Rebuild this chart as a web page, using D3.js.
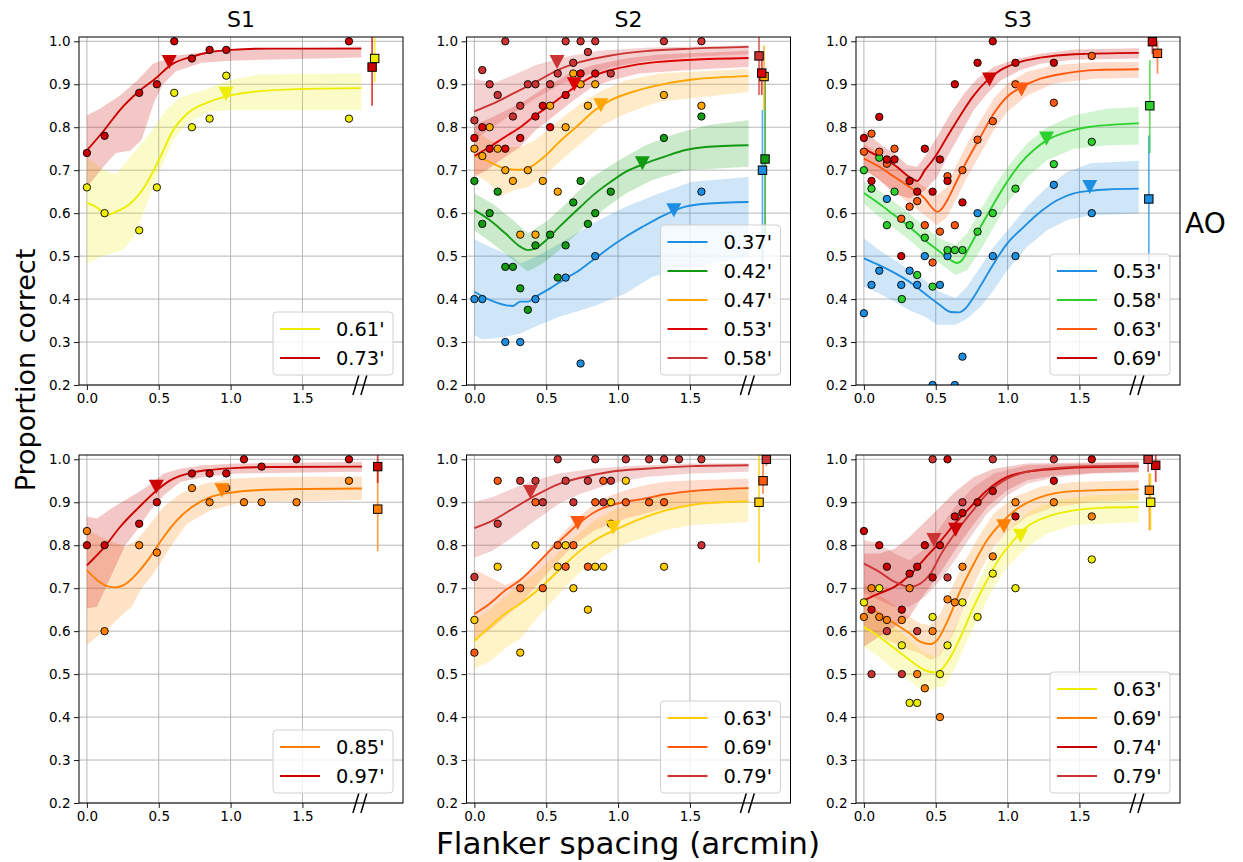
<!DOCTYPE html>
<html><head><meta charset="utf-8">
<script src="https://cdn.jsdelivr.net/npm/d3@7/dist/d3.min.js"></script>
<style>body{margin:0;background:#fff}svg{display:block}text{font-family:"DejaVu Sans",sans-serif;fill:#000}</style>
</head><body><svg id="c" width="1243" height="862"></svg>
<script>
// ---------- shared axis data ----------
const xTicks = [0, 0.5, 1.0, 1.5];
const yTicks = [0.2, 0.3, 0.4, 0.5, 0.6, 0.7, 0.8, 0.9, 1.0];
const titles = ["S1", "S2", "S3"];

// ---------- Panel 1: S1, AO row ----------
const p1Labels = ["0.61'", "0.73'"];
const p1a_pts = [[0,0.66],[0.123,0.60],[0.364,0.56],[0.487,0.66],[0.608,0.88],[0.731,0.80],[0.854,0.82],[0.97,0.92],[1.824,0.82]];
const p1a_fit = [[0,0.624],[0.08,0.611],[0.13,0.595],[0.2,0.603],[0.3,0.622],[0.4,0.661],[0.5,0.723],[0.6,0.793],[0.7,0.832],[0.85,0.859],[1.0,0.874],[1.2,0.884],[1.5,0.889],[1.91,0.891]];
const p1a_hi = [[0,0.73],[0.12,0.70],[0.2,0.69],[0.3,0.73],[0.45,0.79],[0.55,0.84],[0.65,0.87],[0.8,0.885],[1.0,0.91],[1.2,0.923],[1.91,0.925]];
const p1a_lo = [[0,0.483],[0.09,0.498],[0.25,0.514],[0.33,0.545],[0.4,0.607],[0.5,0.692],[0.6,0.77],[0.7,0.81],[0.85,0.836],[1.0,0.84],[1.91,0.84]];
const p1b_pts = [[0,0.74],[0.123,0.78],[0.364,0.88],[0.487,0.90],[0.608,1.0],[0.731,0.96],[0.854,0.98],[0.97,0.98],[1.824,1.0]];
const p1b_fit = [[0,0.746],[0.12,0.793],[0.23,0.84],[0.36,0.883],[0.49,0.917],[0.58,0.944],[0.73,0.964],[0.86,0.975],[1.0,0.98],[1.28,0.983],[1.91,0.983]];
const p1b_hi = [[0,0.828],[0.09,0.843],[0.23,0.874],[0.35,0.909],[0.46,0.948],[0.63,0.967],[0.93,0.979],[1.91,0.988]];
const p1b_lo = [[0,0.66],[0.12,0.71],[0.2,0.74],[0.3,0.745],[0.38,0.77],[0.43,0.82],[0.47,0.86],[0.53,0.9],[0.62,0.93],[0.8,0.95],[1.0,0.955],[1.91,0.962]];
const p1Tri = [[0.968,0.878],[0.573,0.952]];
const p1Sq = [[2.003,0.96],[1.985,0.94]];
const p1Err = [[0.905,1.05],[0.85,1.05]];

// ---------- Panel 2: S2, AO row ----------
const p2Labels = ["0.37'", "0.42'", "0.47'", "0.53'", "0.58'"];
const p2a_pts = [[0,0.40],[0.055,0.40],[0.215,0.30],[0.319,0.30],[0.425,0.40],[0.635,0.45],[0.739,0.25],[0.841,0.50],[1.58,0.65]];
const p2a_fit = [[0,0.417],[0.106,0.398],[0.215,0.386],[0.268,0.384],[0.319,0.394],[0.372,0.394],[0.425,0.405],[0.527,0.425],[0.635,0.448],[0.739,0.469],[0.841,0.495],[0.949,0.522],[1.053,0.545],[1.169,0.568],[1.319,0.595],[1.469,0.615],[1.607,0.622],[1.908,0.626]];
const p2a_hi = [[0,0.539],[0.106,0.522],[0.268,0.498],[0.319,0.483],[0.425,0.498],[0.591,0.529],[0.822,0.576],[1.053,0.615],[1.284,0.646],[1.515,0.673],[1.908,0.684]];
const p2a_lo = [[0,0.316],[0.055,0.306],[0.215,0.312],[0.319,0.32],[0.425,0.336],[0.591,0.359],[0.822,0.382],[1.053,0.413],[1.238,0.452],[1.515,0.475],[1.908,0.498]];
const p2b_pts = [[0,0.675],[0.055,0.575],[0.106,0.60],[0.162,0.65],[0.215,0.475],[0.268,0.475],[0.319,0.425],[0.372,0.375],[0.425,0.525],[0.527,0.55],[0.58,0.45],[0.635,0.525],[0.688,0.625],[0.739,0.675],[0.79,0.575],[0.841,0.60],[0.949,0.65],[1.319,0.775],[1.58,0.825]];
const p2b_fit = [[0,0.607],[0.106,0.584],[0.215,0.553],[0.319,0.522],[0.372,0.514],[0.425,0.518],[0.499,0.537],[0.591,0.568],[0.739,0.615],[0.841,0.646],[0.949,0.673],[1.053,0.696],[1.192,0.716],[1.319,0.731],[1.469,0.747],[1.607,0.754],[1.908,0.758]];
const p2b_hi = [[0,0.646],[0.129,0.622],[0.268,0.584],[0.372,0.553],[0.499,0.58],[0.637,0.622],[0.822,0.684],[1.007,0.723],[1.192,0.758],[1.4,0.785],[1.63,0.805],[1.908,0.816]];
const p2b_lo = [[0,0.56],[0.129,0.529],[0.268,0.491],[0.372,0.464],[0.476,0.483],[0.591,0.514],[0.739,0.56],[0.891,0.607],[1.053,0.646],[1.238,0.677],[1.469,0.70],[1.908,0.708]];
const p2c_pts = [[0,0.75],[0.055,0.733],[0.106,0.80],[0.162,0.75],[0.215,0.70],[0.268,0.675],[0.319,0.55],[0.372,0.70],[0.425,0.55],[0.476,0.675],[0.527,0.85],[0.58,0.65],[0.635,0.80],[0.688,0.925],[0.739,0.90],[0.79,0.85],[0.841,0.90],[1.319,0.875],[1.58,0.85]];
const p2c_fit = [[0,0.735],[0.106,0.719],[0.215,0.704],[0.319,0.701],[0.372,0.704],[0.425,0.715],[0.499,0.735],[0.591,0.766],[0.707,0.80],[0.841,0.84],[0.949,0.863],[1.099,0.882],[1.284,0.898],[1.515,0.911],[1.908,0.919]];
const p2c_hi = [[0,0.793],[0.106,0.77],[0.215,0.754],[0.319,0.754],[0.425,0.77],[0.591,0.816],[0.739,0.855],[0.891,0.886],[1.053,0.909],[1.284,0.925],[1.908,0.936]];
const p2c_lo = [[0,0.692],[0.106,0.669],[0.176,0.638],[0.268,0.653],[0.372,0.661],[0.476,0.684],[0.591,0.719],[0.739,0.762],[0.891,0.805],[1.053,0.832],[1.284,0.859],[1.908,0.882]];
const p2d_pts = [[0,0.775],[0.055,0.80],[0.106,0.75],[0.215,0.75],[0.319,0.775],[0.425,0.825],[0.476,0.85],[0.527,0.80],[0.635,0.875],[0.739,0.925],[0.841,0.925]];
const p2d_fit = [[0,0.733],[0.106,0.754],[0.215,0.778],[0.319,0.80],[0.425,0.828],[0.527,0.851],[0.635,0.878],[0.739,0.902],[0.841,0.921],[0.949,0.933],[1.099,0.944],[1.284,0.952],[1.515,0.957],[1.908,0.961]];
const p2d_hi = [[0,0.805],[0.129,0.824],[0.319,0.855],[0.499,0.894],[0.661,0.925],[0.822,0.944],[1.053,0.96],[1.284,0.969],[1.908,0.978]];
const p2d_lo = [[0,0.684],[0.083,0.70],[0.215,0.731],[0.319,0.754],[0.425,0.793],[0.545,0.824],[0.661,0.855],[0.822,0.894],[0.949,0.909],[1.145,0.925],[1.515,0.934],[1.908,0.94]];
const p2e_pts = [[0,0.816],[0.055,0.933],[0.106,0.90],[0.162,0.875],[0.215,1.0],[0.268,0.825],[0.319,0.85],[0.372,0.90],[0.425,0.90],[0.527,0.90],[0.58,0.925],[0.635,1.0],[0.688,0.95],[0.739,1.0],[0.79,0.975],[0.841,1.0],[0.949,0.925],[1.319,1.0],[1.58,1.0]];
const p2e_fit = [[0,0.837],[0.129,0.855],[0.268,0.878],[0.425,0.905],[0.58,0.933],[0.739,0.952],[0.949,0.967],[1.192,0.977],[1.515,0.983],[1.908,0.987]];
const p2e_hi = [[0,0.913],[0.129,0.902],[0.268,0.921],[0.425,0.944],[0.637,0.964],[0.868,0.978],[1.192,0.985],[1.908,0.991]];
const p2e_lo = [[0,0.77],[0.129,0.80],[0.268,0.832],[0.425,0.867],[0.591,0.898],[0.776,0.921],[0.961,0.94],[1.192,0.954],[1.515,0.964],[1.908,0.97]];
const p2Tri = [[1.388,0.607],[1.169,0.716],[0.88,0.851],[0.695,0.90],[0.575,0.952]];
const p2Sq = [[2.005,0.70],[2.023,0.726],[2.016,0.918],[2.0,0.926],[1.981,0.966]];
const p2Err = [[0.45,0.84],[0.55,0.93],[0.84,0.99],[0.875,0.975],[0.875,1.05]];

// ---------- Panel 3: S3, AO row ----------
const p3Labels = ["0.53'", "0.58'", "0.63'", "0.69'"];
const p3a_pts = [[0,0.367],[0.053,0.433],[0.107,0.466],[0.16,0.633],[0.26,0.433],[0.318,0.466],[0.371,0.433],[0.424,0.50],[0.478,0.20],[0.529,0.433],[0.582,0.50],[0.633,0.20],[0.686,0.266],[0.791,0.60],[0.897,0.50],[1.055,0.50],[1.322,0.666],[1.586,0.60]];
const p3a_fit = [[0,0.495],[0.107,0.479],[0.213,0.461],[0.318,0.44],[0.424,0.413],[0.529,0.386],[0.603,0.37],[0.661,0.369],[0.707,0.378],[0.765,0.405],[0.835,0.444],[0.904,0.483],[0.997,0.529],[1.113,0.568],[1.229,0.603],[1.345,0.63],[1.461,0.646],[1.577,0.652],[1.693,0.655],[1.913,0.657]];
const p3a_hi = [[0,0.541],[0.107,0.514],[0.213,0.491],[0.318,0.467],[0.424,0.444],[0.529,0.417],[0.638,0.402],[0.719,0.429],[0.812,0.475],[0.904,0.522],[1.02,0.568],[1.136,0.615],[1.275,0.661],[1.414,0.696],[1.577,0.716],[1.913,0.722]];
const p3a_lo = [[0,0.429],[0.107,0.413],[0.213,0.394],[0.318,0.374],[0.424,0.359],[0.51,0.34],[0.638,0.34],[0.719,0.355],[0.812,0.382],[0.904,0.421],[0.997,0.467],[1.136,0.522],[1.275,0.56],[1.414,0.584],[1.577,0.595],[1.913,0.599]];
const p3b_pts = [[0,0.70],[0.053,0.657],[0.107,0.729],[0.16,0.572],[0.213,0.65],[0.264,0.40],[0.318,0.572],[0.371,0.456],[0.424,0.543],[0.478,0.429],[0.582,0.514],[0.633,0.514],[0.686,0.514],[0.791,0.557],[0.897,0.60],[1.055,0.657],[1.322,0.714],[1.586,0.766]];
const p3b_fit = [[0,0.647],[0.107,0.622],[0.213,0.595],[0.318,0.568],[0.424,0.537],[0.529,0.51],[0.603,0.491],[0.649,0.484],[0.684,0.491],[0.742,0.526],[0.812,0.568],[0.904,0.622],[0.997,0.673],[1.09,0.716],[1.182,0.747],[1.275,0.77],[1.414,0.789],[1.577,0.801],[1.913,0.809]];
const p3b_hi = [[0,0.673],[0.107,0.653],[0.213,0.626],[0.318,0.599],[0.424,0.568],[0.529,0.541],[0.638,0.526],[0.719,0.553],[0.812,0.607],[0.904,0.661],[1.02,0.716],[1.136,0.762],[1.275,0.80],[1.461,0.828],[1.693,0.843],[1.913,0.847]];
const p3b_lo = [[0,0.622],[0.107,0.591],[0.213,0.564],[0.318,0.537],[0.424,0.506],[0.529,0.483],[0.638,0.456],[0.719,0.467],[0.812,0.514],[0.904,0.568],[0.997,0.622],[1.136,0.684],[1.275,0.723],[1.461,0.75],[1.693,0.758],[1.913,0.76]];
const p3c_pts = [[0,0.743],[0.053,0.785],[0.107,0.743],[0.16,0.715],[0.213,0.75],[0.26,0.587],[0.318,0.615],[0.371,0.628],[0.424,0.572],[0.478,0.485],[0.529,0.557],[0.582,0.686],[0.633,0.572],[0.686,0.70],[0.791,0.771],[0.897,0.814],[1.055,0.90],[1.322,0.857],[1.586,0.966]];
const p3c_fit = [[0,0.727],[0.107,0.708],[0.213,0.684],[0.318,0.661],[0.424,0.634],[0.478,0.611],[0.51,0.603],[0.533,0.607],[0.58,0.63],[0.638,0.669],[0.719,0.723],[0.812,0.778],[0.904,0.832],[0.997,0.871],[1.101,0.894],[1.229,0.913],[1.414,0.926],[1.6,0.933],[1.913,0.935]];
const p3c_hi = [[0,0.762],[0.107,0.739],[0.213,0.712],[0.318,0.684],[0.424,0.661],[0.51,0.642],[0.58,0.661],[0.638,0.708],[0.719,0.762],[0.812,0.816],[0.904,0.867],[0.997,0.902],[1.136,0.929],[1.322,0.944],[1.6,0.951],[1.913,0.952]];
const p3c_lo = [[0,0.70],[0.107,0.677],[0.213,0.65],[0.318,0.622],[0.424,0.595],[0.51,0.572],[0.58,0.591],[0.638,0.63],[0.719,0.684],[0.812,0.739],[0.904,0.793],[0.997,0.836],[1.136,0.874],[1.322,0.902],[1.6,0.913],[1.913,0.915]];
const p3d_pts = [[0,0.775],[0.053,0.675],[0.107,0.824],[0.16,0.725],[0.213,0.725],[0.26,0.50],[0.318,0.675],[0.371,0.65],[0.424,0.75],[0.478,0.65],[0.529,0.725],[0.582,0.675],[0.633,0.90],[0.686,0.625],[0.791,0.95],[0.897,1.0],[1.055,0.95],[1.322,0.95]];
const p3d_fit = [[0,0.75],[0.107,0.731],[0.213,0.712],[0.318,0.684],[0.371,0.675],[0.424,0.70],[0.487,0.727],[0.58,0.778],[0.672,0.828],[0.765,0.874],[0.858,0.909],[0.951,0.933],[1.067,0.95],[1.229,0.962],[1.461,0.97],[1.913,0.973]];
const p3d_hi = [[0,0.793],[0.107,0.762],[0.213,0.739],[0.301,0.712],[0.371,0.708],[0.424,0.731],[0.51,0.778],[0.603,0.832],[0.696,0.878],[0.788,0.913],[0.904,0.94],[1.043,0.957],[1.229,0.971],[1.461,0.981],[1.913,0.984]];
const p3d_lo = [[0,0.704],[0.107,0.677],[0.213,0.646],[0.318,0.634],[0.424,0.653],[0.51,0.684],[0.58,0.731],[0.672,0.785],[0.765,0.84],[0.858,0.878],[0.951,0.909],[1.09,0.933],[1.229,0.948],[1.461,0.957],[1.913,0.96]];
const p3Tri = [[1.572,0.661],[1.271,0.774],[1.097,0.888],[0.874,0.911]];
const p3Sq = [[1.983,0.633],[1.99,0.85],[2.043,0.972],[2.008,0.999]];
const p3Err = [[0.45,0.781],[0.74,0.956],[0.925,1.0],[0.97,1.05]];

// ---------- Panel 4: S1, bottom row ----------
const p4Labels = ["0.85'", "0.97'"];
const p4a_pts = [[0,0.833],[0.123,0.60],[0.364,0.80],[0.487,0.783],[0.731,0.933],[0.854,0.90],[0.97,0.933],[1.093,0.90],[1.216,0.90],[1.459,0.90],[1.824,0.95]];
const p4a_fit = [[0,0.742],[0.07,0.719],[0.139,0.705],[0.2,0.702],[0.255,0.707],[0.348,0.734],[0.441,0.773],[0.534,0.819],[0.626,0.858],[0.731,0.889],[0.858,0.912],[0.998,0.922],[1.183,0.928],[1.508,0.931],[1.914,0.932]];
const p4a_hi = [[0,0.835],[0.116,0.816],[0.267,0.796],[0.348,0.812],[0.441,0.85],[0.534,0.889],[0.65,0.92],[0.812,0.943],[0.998,0.955],[1.276,0.959],[1.914,0.96]];
const p4a_lo = [[0,0.567],[0.07,0.587],[0.162,0.61],[0.255,0.641],[0.313,0.657],[0.371,0.695],[0.464,0.734],[0.58,0.796],[0.696,0.85],[0.858,0.881],[1.044,0.897],[1.276,0.901],[1.914,0.905]];
const p4b_pts = [[0,0.80],[0.123,0.80],[0.364,0.85],[0.487,0.90],[0.731,0.967],[0.854,0.967],[0.97,0.967],[1.093,1.0],[1.216,0.983],[1.459,1.0],[1.824,1.0]];
const p4b_fit = [[0,0.753],[0.123,0.796],[0.232,0.843],[0.364,0.889],[0.487,0.928],[0.58,0.951],[0.731,0.969],[0.882,0.976],[1.044,0.98],[1.276,0.982],[1.914,0.983]];
const p4b_hi = [[0,0.867],[0.07,0.862],[0.186,0.889],[0.302,0.912],[0.418,0.936],[0.534,0.967],[0.65,0.978],[0.812,0.986],[1.044,0.99],[1.914,0.994]];
const p4b_lo = [[0,0.653],[0.07,0.657],[0.267,0.80],[0.348,0.835],[0.441,0.881],[0.534,0.916],[0.65,0.947],[0.812,0.959],[1.044,0.967],[1.914,0.971]];
const p4Tri = [[0.94,0.928],[0.483,0.936]];
const p4Sq = [[2.024,0.884],[2.024,0.983]];
const p4Err = [[0.786,0.98],[0.945,1.05]];

// ---------- Panel 5: S2, bottom row ----------
const p5Labels = ["0.63'", "0.69'", "0.79'"];
const p5a_pts = [[0,0.626],[0.162,0.75],[0.319,0.55],[0.425,0.80],[0.58,0.75],[0.635,0.80],[0.689,0.70],[0.79,0.65],[0.841,0.75],[0.897,0.75],[0.95,0.90],[1.054,0.95],[1.32,0.75]];
const p5a_fit = [[0,0.577],[0.106,0.61],[0.215,0.641],[0.319,0.664],[0.425,0.691],[0.527,0.722],[0.635,0.757],[0.739,0.788],[0.841,0.812],[0.949,0.831],[1.053,0.847],[1.192,0.866],[1.319,0.88],[1.469,0.891],[1.607,0.898],[1.908,0.902]];
const p5a_hi = [[0,0.626],[0.106,0.649],[0.215,0.68],[0.319,0.711],[0.425,0.734],[0.527,0.765],[0.635,0.80],[0.739,0.831],[0.841,0.858],[0.949,0.878],[1.053,0.893],[1.192,0.909],[1.319,0.92],[1.515,0.929],[1.908,0.936]];
const p5a_lo = [[0,0.513],[0.106,0.529],[0.215,0.56],[0.319,0.583],[0.425,0.626],[0.527,0.664],[0.635,0.703],[0.739,0.738],[0.841,0.761],[0.949,0.784],[1.053,0.804],[1.192,0.819],[1.319,0.835],[1.515,0.847],[1.908,0.854]];
const p5b_pts = [[0,0.55],[0.162,0.95],[0.319,0.70],[0.425,0.90],[0.476,0.70],[0.58,0.80],[0.635,0.75],[0.689,0.80],[0.79,0.75],[0.841,0.90],[0.897,0.95],[0.95,0.85],[1.054,0.90],[1.216,0.90],[1.32,0.90]];
const p5b_fit = [[0,0.64],[0.106,0.664],[0.215,0.695],[0.319,0.719],[0.425,0.753],[0.527,0.788],[0.635,0.823],[0.739,0.854],[0.841,0.878],[0.949,0.893],[1.053,0.901],[1.192,0.909],[1.319,0.918],[1.515,0.926],[1.908,0.933]];
const p5b_hi = [[0,0.743],[0.106,0.726],[0.215,0.707],[0.319,0.722],[0.425,0.75],[0.527,0.796],[0.635,0.835],[0.739,0.87],[0.841,0.897],[0.949,0.916],[1.053,0.928],[1.192,0.94],[1.319,0.947],[1.515,0.951],[1.908,0.955]];
const p5b_lo = [[0,0.579],[0.106,0.602],[0.215,0.633],[0.319,0.664],[0.425,0.703],[0.527,0.742],[0.635,0.781],[0.739,0.812],[0.841,0.835],[0.949,0.85],[1.053,0.862],[1.192,0.874],[1.319,0.885],[1.515,0.893],[1.908,0.901]];
const p5c_pts = [[0,0.726],[0.162,0.85],[0.319,0.95],[0.425,0.95],[0.476,0.90],[0.58,1.0],[0.635,0.95],[0.689,0.90],[0.79,0.95],[0.841,1.0],[0.897,0.90],[0.95,0.95],[1.054,1.0],[1.216,1.0],[1.32,1.0],[1.424,1.0],[1.58,1.0],[1.58,0.80]];
const p5c_fit = [[0,0.84],[0.129,0.858],[0.268,0.885],[0.425,0.916],[0.591,0.943],[0.739,0.957],[0.949,0.971],[1.192,0.978],[1.515,0.984],[1.908,0.986]];
const p5c_hi = [[0,0.901],[0.129,0.912],[0.268,0.932],[0.425,0.951],[0.591,0.967],[0.822,0.978],[1.053,0.984],[1.515,0.99],[1.908,0.991]];
const p5c_lo = [[0,0.771],[0.129,0.788],[0.268,0.819],[0.425,0.858],[0.591,0.897],[0.739,0.92],[0.949,0.943],[1.192,0.959],[1.515,0.967],[1.908,0.971]];
const p5Tri = [[0.966,0.841],[0.719,0.852],[0.39,0.924]];
const p5Sq = [[1.981,0.90],[2.009,0.95],[2.032,1.0]];
const p5Err = [[0.76,1.05],[0.92,1.0],[0.985,1.05]];

// ---------- Panel 6: S3, bottom row ----------
const p6Labels = ["0.63'", "0.69'", "0.74'", "0.79'"];
const p6a_pts = [[0,0.667],[0.107,0.70],[0.264,0.567],[0.318,0.433],[0.371,0.433],[0.478,0.633],[0.529,0.50],[0.582,0.567],[0.686,0.667],[0.791,0.633],[0.897,0.734],[1.055,0.70],[1.586,0.767]];
const p6a_fit = [[0,0.61],[0.107,0.587],[0.213,0.56],[0.318,0.533],[0.424,0.509],[0.499,0.504],[0.533,0.509],[0.603,0.54],[0.684,0.595],[0.765,0.657],[0.858,0.719],[0.951,0.773],[1.043,0.812],[1.136,0.843],[1.275,0.866],[1.461,0.881],[1.646,0.887],[1.913,0.889]];
const p6a_hi = [[0,0.657],[0.107,0.633],[0.213,0.61],[0.318,0.579],[0.424,0.548],[0.51,0.54],[0.58,0.571],[0.672,0.633],[0.765,0.695],[0.858,0.757],[0.951,0.812],[1.043,0.85],[1.182,0.885],[1.345,0.906],[1.577,0.916],[1.913,0.92]];
const p6a_lo = [[0,0.564],[0.107,0.54],[0.213,0.509],[0.318,0.486],[0.424,0.455],[0.51,0.47],[0.557,0.47],[0.638,0.517],[0.719,0.579],[0.812,0.641],[0.904,0.703],[0.997,0.75],[1.136,0.796],[1.275,0.827],[1.461,0.847],[1.913,0.854]];
const p6b_pts = [[0,0.633],[0.053,0.70],[0.107,0.633],[0.16,0.626],[0.264,0.626],[0.318,0.70],[0.371,0.50],[0.424,0.467],[0.478,0.60],[0.529,0.40],[0.582,0.674],[0.633,0.667],[0.686,0.75],[0.897,0.774],[1.055,0.90],[1.322,0.90],[1.586,0.867]];
const p6b_fit = [[0,0.664],[0.107,0.641],[0.213,0.618],[0.318,0.595],[0.394,0.575],[0.464,0.57],[0.51,0.579],[0.58,0.622],[0.672,0.695],[0.765,0.757],[0.858,0.812],[0.951,0.85],[1.067,0.885],[1.229,0.912],[1.461,0.926],[1.913,0.93]];
const p6b_hi = [[0,0.711],[0.107,0.684],[0.213,0.66],[0.318,0.633],[0.394,0.618],[0.464,0.614],[0.533,0.641],[0.626,0.711],[0.719,0.773],[0.812,0.827],[0.904,0.874],[1.043,0.912],[1.229,0.936],[1.461,0.947],[1.913,0.951]];
const p6b_lo = [[0,0.61],[0.107,0.587],[0.213,0.572],[0.318,0.556],[0.394,0.548],[0.464,0.533],[0.533,0.544],[0.626,0.595],[0.719,0.672],[0.812,0.742],[0.904,0.796],[0.997,0.831],[1.136,0.866],[1.322,0.889],[1.6,0.901],[1.913,0.905]];
const p6c_pts = [[0,0.833],[0.053,0.65],[0.107,0.80],[0.16,0.75],[0.264,0.65],[0.318,0.734],[0.371,0.75],[0.424,0.80],[0.478,0.725],[0.529,0.80],[0.582,1.0],[0.633,0.867],[0.686,0.875],[0.791,0.90],[0.897,0.926],[1.055,0.867],[1.322,0.95],[1.586,1.0]];
const p6c_fit = [[0,0.672],[0.107,0.688],[0.213,0.703],[0.318,0.73],[0.424,0.769],[0.529,0.808],[0.633,0.85],[0.742,0.889],[0.858,0.928],[0.997,0.959],[1.136,0.971],[1.345,0.978],[1.6,0.982],[1.913,0.983]];
const p6c_hi = [[0,0.781],[0.107,0.781],[0.213,0.792],[0.318,0.819],[0.424,0.854],[0.529,0.889],[0.633,0.924],[0.765,0.959],[0.904,0.978],[1.136,0.99],[1.913,0.994]];
const p6c_lo = [[0,0.564],[0.107,0.587],[0.213,0.61],[0.318,0.633],[0.424,0.688],[0.529,0.734],[0.633,0.788],[0.742,0.839],[0.858,0.889],[0.997,0.928],[1.136,0.951],[1.345,0.963],[1.6,0.968],[1.913,0.971]];
const p6d_pts = [[0.053,0.50],[0.16,0.60],[0.264,0.50],[0.371,0.60],[0.478,1.0],[0.582,0.725],[0.686,0.90],[0.897,1.0],[1.322,1.0]];
const p6d_fit = [[0,0.757],[0.107,0.738],[0.213,0.715],[0.318,0.703],[0.394,0.711],[0.464,0.734],[0.533,0.777],[0.633,0.827],[0.742,0.874],[0.858,0.92],[0.997,0.955],[1.136,0.971],[1.345,0.98],[1.6,0.984],[1.913,0.985]];
const p6d_hi = [[0,0.812],[0.107,0.804],[0.213,0.781],[0.318,0.765],[0.424,0.792],[0.533,0.843],[0.633,0.889],[0.765,0.936],[0.904,0.967],[1.136,0.986],[1.913,0.993]];
const p6d_lo = [[0,0.688],[0.107,0.672],[0.213,0.657],[0.318,0.657],[0.424,0.68],[0.533,0.719],[0.633,0.765],[0.742,0.819],[0.858,0.874],[0.997,0.916],[1.136,0.943],[1.345,0.959],[1.6,0.967],[1.913,0.969]];
const p6Tri = [[1.09,0.822],[0.974,0.844],[0.638,0.836],[0.487,0.812]];
const p6Sq = [[1.996,0.90],[1.987,0.928],[2.031,0.986],[1.978,1.0]];
const p6Err = [[0.835,0.967],[0.835,0.967],[0.947,1.05],[0.97,1.05]];

// ---------- styles (colours per panel, separate from data) ----------
const C = {yellow:"#eded00", gold:"#ffcc00", orange:"#ffa500", orange2:"#ff7f00", orangered:"#ff5a10",
  red:"#dd0000", dred:"#cc0000", brick:"#cc3333", blue:"#1e8fe0", green:"#139a13", lime:"#2ed02e"};
const p1Colors = [C.yellow, C.dred];
const p2Colors = [C.blue, C.green, C.orange, C.red, C.brick];
const p3Colors = [C.blue, C.lime, C.orangered, C.dred];
const p4Colors = [C.orange2, C.dred];
const p5Colors = [C.gold, C.orangered, C.brick];
const p6Colors = [C.yellow, C.orange2, C.dred, C.brick];

const panels = [
  {col:0,row:0,labels:p1Labels,colors:p1Colors,pts:[p1a_pts,p1b_pts],fit:[p1a_fit,p1b_fit],hi:[p1a_hi,p1b_hi],lo:[p1a_lo,p1b_lo],tri:p1Tri,sq:p1Sq,err:p1Err},
  {col:1,row:0,labels:p2Labels,colors:p2Colors,pts:[p2a_pts,p2b_pts,p2c_pts,p2d_pts,p2e_pts],fit:[p2a_fit,p2b_fit,p2c_fit,p2d_fit,p2e_fit],hi:[p2a_hi,p2b_hi,p2c_hi,p2d_hi,p2e_hi],lo:[p2a_lo,p2b_lo,p2c_lo,p2d_lo,p2e_lo],tri:p2Tri,sq:p2Sq,err:p2Err},
  {col:2,row:0,labels:p3Labels,colors:p3Colors,pts:[p3a_pts,p3b_pts,p3c_pts,p3d_pts],fit:[p3a_fit,p3b_fit,p3c_fit,p3d_fit],hi:[p3a_hi,p3b_hi,p3c_hi,p3d_hi],lo:[p3a_lo,p3b_lo,p3c_lo,p3d_lo],tri:p3Tri,sq:p3Sq,err:p3Err},
  {col:0,row:1,labels:p4Labels,colors:p4Colors,pts:[p4a_pts,p4b_pts],fit:[p4a_fit,p4b_fit],hi:[p4a_hi,p4b_hi],lo:[p4a_lo,p4b_lo],tri:p4Tri,sq:p4Sq,err:p4Err},
  {col:1,row:1,labels:p5Labels,colors:p5Colors,pts:[p5a_pts,p5b_pts,p5c_pts],fit:[p5a_fit,p5b_fit,p5c_fit],hi:[p5a_hi,p5b_hi,p5c_hi],lo:[p5a_lo,p5b_lo,p5c_lo],tri:p5Tri,sq:p5Sq,err:p5Err},
  {col:2,row:1,labels:p6Labels,colors:p6Colors,pts:[p6a_pts,p6b_pts,p6c_pts,p6d_pts],fit:[p6a_fit,p6b_fit,p6c_fit,p6d_fit],hi:[p6a_hi,p6b_hi,p6c_hi,p6d_hi],lo:[p6a_lo,p6b_lo,p6c_lo,p6d_lo],tri:p6Tri,sq:p6Sq,err:p6Err}
];

// ---------- layout ----------
const svg = d3.select("#c");
const W = 324, H = 348;
const colX = [79, 466.5, 856], rowY = [37, 455];
const xDom = [-0.055, 2.2], yDom = [0.2, 1.01];
const breakX = 1.9;

panels.forEach((p, pi) => {
  const g = svg.append("g").attr("transform", `translate(${colX[p.col]},${rowY[p.row]})`);
  const x = d3.scaleLinear().domain(xDom).range([0, W]);
  const y = d3.scaleLinear().domain(yDom).range([H, 0]);
  const cid = "clip" + pi;
  g.append("clipPath").attr("id", cid).append("rect").attr("width", W).attr("height", H);

  // grid
  const grid = g.append("g").attr("stroke", "#b0b0b0").attr("stroke-width", 0.9);
  xTicks.forEach(t => grid.append("line").attr("x1", x(t)).attr("x2", x(t)).attr("y1", 0).attr("y2", H));
  yTicks.forEach(t => grid.append("line").attr("x1", 0).attr("x2", W).attr("y1", y(t)).attr("y2", y(t)));

  const plot = g.append("g").attr("clip-path", `url(#${cid})`);
  const lineLin = d3.line().x(d => x(d[0])).y(d => y(d[1]));
  const lineSm = d3.line().x(d => x(d[0])).y(d => y(d[1])).curve(d3.curveMonotoneX);
  const n = p.labels.length;

  // bands
  for (let i = 0; i < n; i++) {
    const poly = p.hi[i].concat(p.lo[i].slice().reverse());
    plot.append("path").attr("d", lineLin(poly) + "Z").attr("fill", p.colors[i]).attr("fill-opacity", 0.22).attr("stroke", "none");
  }
  // fit lines
  for (let i = 0; i < n; i++) {
    plot.append("path").attr("d", lineSm(p.fit[i])).attr("fill", "none")
      .attr("stroke", p.colors[i]).attr("stroke-width", 1.9);
  }
  // scatter
  for (let i = 0; i < n; i++) {
    plot.append("g").selectAll("circle").data(p.pts[i]).join("circle")
      .attr("cx", d => x(d[0])).attr("cy", d => y(d[1])).attr("r", 3.7)
      .attr("fill", p.colors[i]).attr("stroke", "#000").attr("stroke-width", 0.9);
  }
  // thresholds (down triangles)
  p.tri.forEach((d, i) => {
    plot.append("path").attr("transform", `translate(${x(d[0])},${y(d[1])})`)
      .attr("d", "M-7.5,-7L7.5,-7L0,7Z").attr("fill", p.colors[i]);
  });
  // unflanked: error bars + squares
  p.err.forEach((e, i) => {
    const xs = x(p.sq[i][0]);
    plot.append("line").attr("x1", xs).attr("x2", xs).attr("y1", y(e[0])).attr("y2", y(e[1]))
      .attr("stroke", p.colors[i]).attr("stroke-width", 1.8).attr("stroke-opacity", 0.7);
  });
  p.sq.forEach((d, i) => {
    plot.append("rect").attr("x", x(d[0]) - 4.2).attr("y", y(d[1]) - 4.2).attr("width", 8.4).attr("height", 8.4)
      .attr("fill", p.colors[i]).attr("stroke", "#000").attr("stroke-width", 1);
  });

  // axes
  const ax = g.append("g").attr("transform", `translate(0,${H})`)
    .call(d3.axisBottom(x).tickValues(xTicks).tickFormat(d3.format(".1f")).tickSize(5).tickPadding(3.5).tickSizeOuter(0));
  const ay = g.append("g")
    .call(d3.axisLeft(y).tickValues(yTicks).tickFormat(d3.format(".1f")).tickSize(5).tickPadding(3.5).tickSizeOuter(0));
  [ax, ay].forEach(a => {
    a.select(".domain").remove();
    a.selectAll("line").attr("stroke", "#000").attr("stroke-width", 0.9);
    a.selectAll("text").attr("font-size", "13.5px").attr("font-family", "DejaVu Sans").attr("fill", "#222");
  });
  // spines
  g.append("rect").attr("width", W).attr("height", H).attr("fill", "none").attr("stroke", "#000").attr("stroke-width", 1);

  // axis break mark
  const bx = x(breakX);
  g.append("path").attr("d", `M${bx - 7},${H + 10}L${bx - 1},${H - 10}M${bx + 1},${H + 10}L${bx + 7},${H - 10}`)
    .attr("stroke", "#000").attr("stroke-width", 1.5).attr("fill", "none");

  // legend
  const rowH = 29, lh = 34 + (n - 1) * rowH, lw = 120;
  const lg = g.append("g").attr("transform", `translate(${W - 10 - lw},${H - 10 - lh})`);
  lg.append("rect").attr("width", lw).attr("height", lh).attr("rx", 3.5)
    .attr("fill", "#fff").attr("fill-opacity", 0.8).attr("stroke", "#d0d0d0").attr("stroke-width", 1);
  p.labels.forEach((lab, i) => {
    const cy = 17 + i * rowH;
    lg.append("line").attr("x1", 7).attr("x2", 47).attr("y1", cy).attr("y2", cy)
      .attr("stroke", p.colors[i]).attr("stroke-width", 2);
    lg.append("text").attr("x", 63).attr("y", cy + 7).attr("font-size", "19.4px").text(lab);
  });

  // column titles
  if (p.row === 0) {
    g.append("text").attr("x", W / 2).attr("y", -10).attr("text-anchor", "middle")
      .attr("font-size", "22px").text(titles[p.col]);
  }
});

// row label and axis labels
svg.append("text").attr("x", 1185).attr("y", 233).attr("font-size", "28px").text("AO");
svg.append("text").attr("transform", "translate(35,370) rotate(-90)").attr("text-anchor", "middle")
  .attr("font-size", "27px").text("Proportion correct");
svg.append("text").attr("x", 628).attr("y", 854).attr("text-anchor", "middle")
  .attr("font-size", "31px").text("Flanker spacing (arcmin)");
</script></body></html>
